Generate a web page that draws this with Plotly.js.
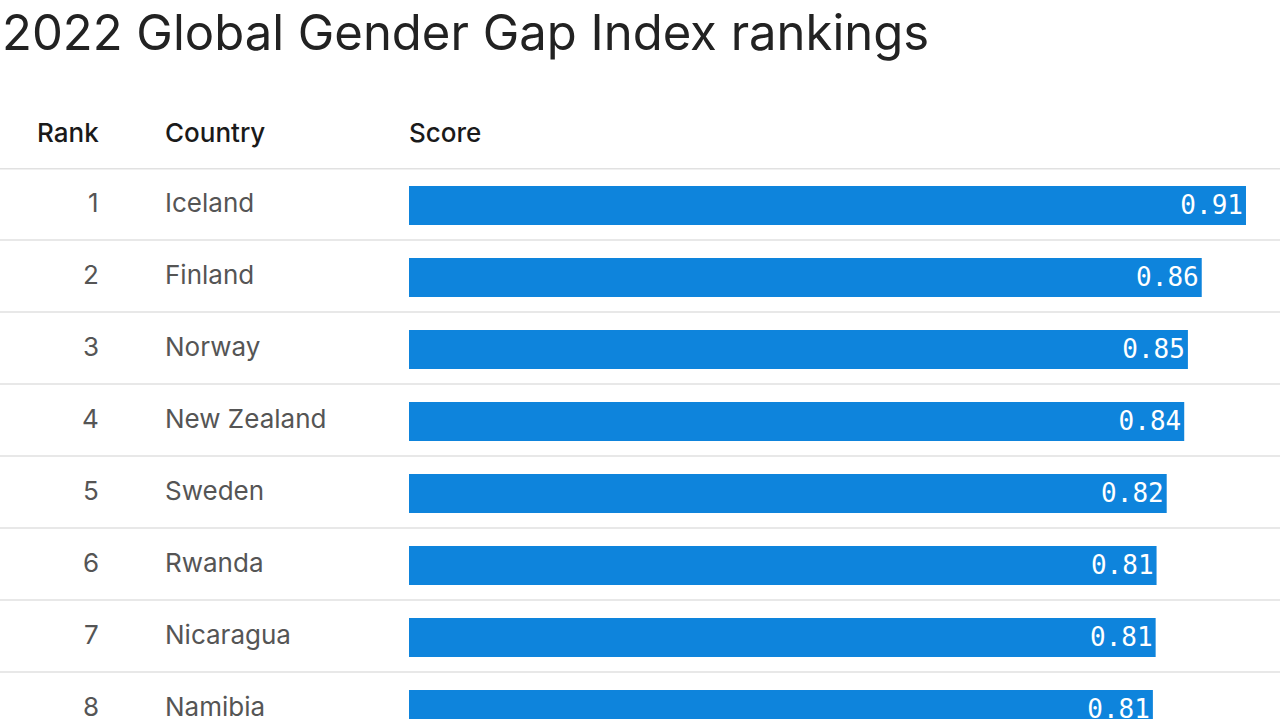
<!DOCTYPE html>
<html>
<head>
<meta charset="utf-8">
<script src="https://cdn.plot.ly/plotly-3.0.1.min.js"></script>
<style>html,body{margin:0;padding:0;background:#fff;}#chart{width:1280px;height:719px;}</style>
</head>
<body>
<div id="chart"></div>
<script>
const chartTitle = "2022 Global Gender Gap Index rankings";
const headers = ["Rank", "Country", "Score"];
const ranks = [1, 2, 3, 4, 5, 6, 7, 8];
const countries = ["Iceland", "Finland", "Norway", "New Zealand", "Sweden", "Rwanda", "Nicaragua", "Namibia"];
const scores = [0.908, 0.860, 0.845, 0.841, 0.822, 0.811, 0.810, 0.807];

const W = 1280, H = 719, TOP = 168;
const py = p => (H - p) / (H - TOP);   // pixel y -> paper y
const px = p => p / W;                  // pixel x -> paper x
const rowIdx = ranks.map((r, i) => i);
const fmt = v => (Math.round(v * 100 + 1e-6) / 100).toFixed(2);

const bar = {
  type: "bar",
  orientation: "h",
  x: scores,
  y: rowIdx,
  width: 0.54,
  offset: -0.25,
  marker: {color: "#0e84dc"},
  text: scores.map(fmt),
  textposition: "inside",
  insidetextanchor: "end",
  textfont: {family: "DejaVu Sans Mono, monospace", size: 26, color: "#ffffff"},
  hoverinfo: "skip",
  cliponaxis: false
};

const annotations = [];
annotations.push({xref: "paper", yref: "paper", x: px(0), y: py(33), xanchor: "left", yanchor: "middle",
  text: chartTitle, showarrow: false, font: {family: "Inter, sans-serif", size: 49, color: "#222222"}});
annotations.push({xref: "paper", yref: "paper", x: px(101), y: py(132), xanchor: "right", yanchor: "middle",
  text: headers[0], showarrow: false, font: {family: "Inter, sans-serif", size: 26, color: "#1a1a1a", weight: 500}});
annotations.push({xref: "paper", yref: "paper", x: px(163), y: py(132), xanchor: "left", yanchor: "middle",
  text: headers[1], showarrow: false, font: {family: "Inter, sans-serif", size: 26, color: "#1a1a1a", weight: 500}});
annotations.push({xref: "paper", yref: "paper", x: px(407), y: py(132), xanchor: "left", yanchor: "middle",
  text: headers[2], showarrow: false, font: {family: "Inter, sans-serif", size: 26, color: "#1a1a1a", weight: 500}});
ranks.forEach((r, i) => {
  annotations.push({xref: "paper", yref: "y", x: px(101), y: i - 0.02, xanchor: "right", yanchor: "middle",
    text: String(r), showarrow: false, font: {family: "Inter, sans-serif", size: 26, color: "#555555"}});
  annotations.push({xref: "paper", yref: "y", x: px(163), y: i - 0.02, xanchor: "left", yanchor: "middle",
    text: countries[i], showarrow: false, font: {family: "Inter, sans-serif", size: 26, color: "#555555"}});
});

const shapes = [{type: "line", xref: "paper", yref: "y", x0: 0, x1: 1, y0: -0.5, y1: -0.5,
  line: {color: "#e1e1e1", width: 3}}];
rowIdx.forEach(i => {
  shapes.push({type: "line", xref: "paper", yref: "y", x0: 0, x1: 1, y0: i + 0.5, y1: i + 0.5,
    line: {color: "#e8e8e8", width: 2}});
});

const layout = {
  width: W, height: H,
  margin: {l: 0, r: 0, t: TOP, b: 0, pad: 0},
  paper_bgcolor: "#ffffff", plot_bgcolor: "#ffffff",
  showlegend: false,
  xaxis: {domain: [px(409), 1], range: [0, 0.9449], showgrid: false, zeroline: false,
          showticklabels: false, showline: false, fixedrange: true},
  yaxis: {range: [(H - 204) / 72, -0.5], showgrid: false, zeroline: false,
          showticklabels: false, showline: false, fixedrange: true},
  annotations: annotations,
  shapes: shapes
};

Plotly.newPlot("chart", [bar], layout, {staticPlot: true, displayModeBar: false});
</script>
</body>
</html>
